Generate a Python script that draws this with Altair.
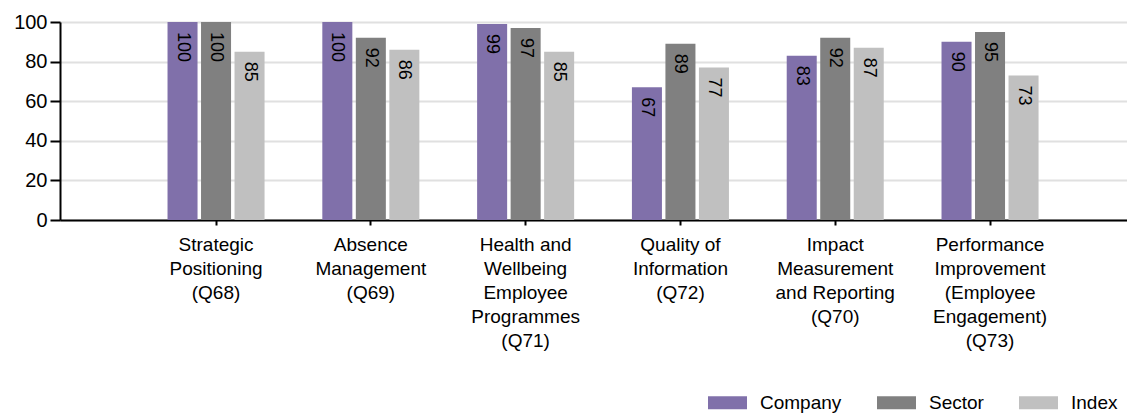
import altair as alt
import pandas as pd

categories = [
    "Strategic|Positioning|(Q68)",
    "Absence|Management|(Q69)",
    "Health and|Wellbeing|Employee|Programmes|(Q71)",
    "Quality of|Information|(Q72)",
    "Impact|Measurement|and Reporting|(Q70)",
    "Performance|Improvement|(Employee|Engagement)|(Q73)",
]
series = ["Company", "Sector", "Index"]
company = [100, 100, 99, 67, 83, 90]
sector = [100, 92, 97, 89, 92, 95]
index_ = [85, 86, 85, 77, 87, 73]
colors = ["#8070aa", "#808080", "#c0c0c0"]

rows = []
for i, c in enumerate(categories):
    for s, vals in zip(series, [company, sector, index_]):
        rows.append({"category": c, "series": s, "value": vals[i]})
df = pd.DataFrame(rows)

FONT = "Liberation Sans"

x = alt.X(
    "category:N",
    sort=categories,
    scale=alt.Scale(domain=categories, paddingInner=0, paddingOuter=0.4464, align=0.569),
    axis=alt.Axis(
        title=None,
        labelExpr="split(datum.label, '|')",
        labelAngle=0,
        labelFontSize=19,
        labelLineHeight=24,
        labelColor="black",
        labelFont=FONT,
        labelLimit=0,
        labelOverlap=False,
        tickColor="black",
        tickSize=5,
        tickWidth=2,
        domainColor="black",
        domainWidth=2,
        labelPadding=10,
        grid=False,
    ),
)
xoff = alt.XOffset(
    "series:N",
    sort=series,
    scale=alt.Scale(domain=series, paddingInner=0.104, paddingOuter=0.862),
)
y = alt.Y(
    "value:Q",
    scale=alt.Scale(domain=[0, 100], nice=False),
    axis=alt.Axis(
        title=None,
        values=[0, 20, 40, 60, 80, 100],
        gridColor="#e0e0e0",
        gridWidth=2,
        domainColor="black",
        domainWidth=2,
        tickColor="black",
        tickSize=10,
        tickWidth=2,
        labelFontSize=20,
        labelFont=FONT,
        labelColor="black",
        labelPadding=3,
    ),
)

bars = alt.Chart(df).mark_bar().encode(
    x=x,
    xOffset=xoff,
    y=y,
    color=alt.Color(
        "series:N",
        sort=series,
        scale=alt.Scale(domain=series, range=colors),
        legend=alt.Legend(
            orient="none",
            legendX=648,
            legendY=361,
            direction="horizontal",
            title=None,
            symbolType="M-1,-0.333L1,-0.333L1,0.333L-1,0.333Z",
            symbolSize=1521,
            symbolStrokeWidth=0,
            symbolOpacity=1,
            labelFontSize=19,
            labelFont=FONT,
            labelColor="black",
            labelOffset=13,
            columnPadding=35,
            padding=0,
        ),
    ),
)

labels = alt.Chart(df).mark_text(
    angle=90, align="left", baseline="middle", dx=10, fontSize=18, font=FONT, color="black"
).encode(x=x, xOffset=xoff, y=y, text="value:Q")

chart = (
    alt.layer(bars, labels)
    .properties(
        width=1067,
        height=198,
        autosize=alt.AutoSizeParams(type="none"),
        padding={"left": 52, "top": 14, "right": 0, "bottom": 194},
    )
    .configure_view(stroke=None)
    .configure(font=FONT)
)

chart.save("out.html", embed_options={"renderer": "svg", "actions": False})
